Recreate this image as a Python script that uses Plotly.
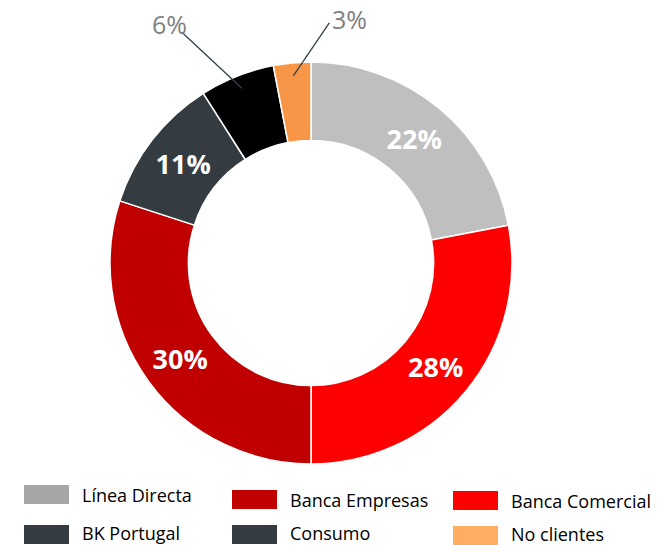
import math
import plotly.graph_objects as go

# ---- data (clockwise from 12 o'clock) ----
labels = ["Línea Directa", "Banca Comercial", "Banca Empresas", "Consumo", "BK Portugal", "No clientes"]
values = [22, 28, 30, 11, 6, 3]
slice_colors = ["#BFBFBF", "#FF0000", "#C00000", "#343C42", "#000000", "#F79646"]

# legend (order as in the reference)
legend_labels = ["Línea Directa", "Banca Empresas", "Banca Comercial", "BK Portugal", "Consumo", "No clientes"]
legend_colors = ["#A6A6A6", "#C00000", "#FF0000", "#343C42", "#343C42", "#FFAD62"]

outside = {"BK Portugal", "No clientes"}

W, H = 659, 545
CX, CY, R = 311, 263, 201   # pixel centre / radius of donut
HOLE = 0.61

texts = ["" if l in outside else f"{v}%" for l, v in zip(labels, values)]

fig = go.Figure(go.Pie(
    labels=labels, values=values, text=texts, textinfo="text",
    textposition="inside", insidetextorientation="horizontal",
    sort=False, direction="clockwise", rotation=0, hole=HOLE,
    marker=dict(colors=slice_colors, line=dict(color="white", width=1.5)),
    textfont=dict(family="Open Sans", size=27, color="white", weight="bold"),
    domain=dict(x=[(CX - R) / W, (CX + R) / W], y=[(H - CY - R) / H, (H - CY + R) / H]),
    showlegend=False, hoverinfo="label+percent",
))

# leader lines + outside labels, anchored at slice mid-angles
total = sum(values)
offsets = {"BK Portugal": (-60, -56, -12, -8), "No clientes": (36, -53, 20, -4)}
shapes, annotations = [], []
cum = 0
for l, v in zip(labels, values):
    mid = (cum + v / 2) / total * 2 * math.pi
    cum += v
    if l not in outside:
        continue
    r0 = R * 0.935
    x0 = CX + r0 * math.sin(mid)
    y0 = CY - r0 * math.cos(mid)
    dx, dy, tx, ty = offsets[l]
    x1, y1 = x0 + dx, y0 + dy
    shapes.append(dict(type="line", xref="paper", yref="paper",
                       x0=x0 / W, y0=1 - y0 / H, x1=x1 / W, y1=1 - y1 / H,
                       line=dict(color="#333F48", width=1.3)))
    annotations.append(dict(xref="paper", yref="paper", x=(x1 + tx) / W, y=1 - (y1 + ty) / H,
                            xanchor="center", yanchor="middle",
                            text=f"{v}%", showarrow=False,
                            font=dict(family="Open Sans", size=25, color="#808080")))

# custom legend: 3 columns x 2 rows
col_x = [24, 232, 453]
row_y = [[485, 490, 491], [525, 525, 526]]
sw_w, sw_h = 45, 19
for i, (l, c) in enumerate(zip(legend_labels, legend_colors)):
    r, k = divmod(i, 3)
    x = col_x[k]
    y = row_y[r][k]
    shapes.append(dict(type="rect", xref="paper", yref="paper",
                       x0=x / W, x1=(x + sw_w) / W, y0=1 - y / H, y1=1 - (y + sw_h) / H,
                       fillcolor=c, line=dict(width=0)))
    ty = y + sw_h / 2 - (2 if r == 1 else 0)
    annotations.append(dict(xref="paper", yref="paper", x=(x + sw_w + 12) / W, y=1 - ty / H,
                            xanchor="left", yanchor="middle", text=l, showarrow=False,
                            borderpad=0,
                            font=dict(family="Open Sans", size=18, color="#000000")))

fig.update_layout(
    width=W, height=H, margin=dict(l=0, r=0, t=0, b=0),
    paper_bgcolor="white", plot_bgcolor="white",
    shapes=shapes, annotations=annotations,
)

fig.write_html("out.html", config={"displayModeBar": False},
               post_script="document.body.style.margin='0';document.body.style.overflow='hidden';")
